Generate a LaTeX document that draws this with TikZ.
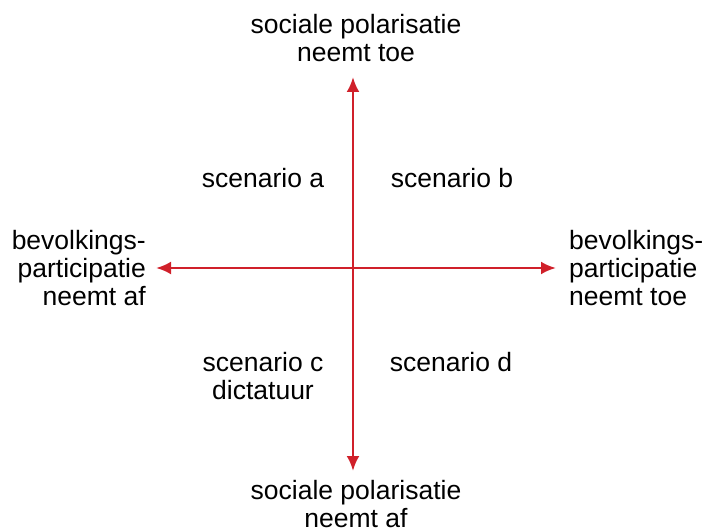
\documentclass[tikz,border=0pt]{standalone}
\usepackage{fontspec}
\setmainfont{Liberation Sans}
\usetikzlibrary{arrows.meta}
\definecolor{axisred}{HTML}{D0202A}
\begin{document}
\begin{tikzpicture}[x=1pt,y=-1pt,
  lbl/.style={font=\fontsize{26.5}{28}\selectfont, inner sep=0pt, text=black},
  axis/.style={draw=axisred, line width=2.8pt, -{Latex[length=15pt,width=13pt]}}]
\useasboundingbox (0,0) rectangle (705,532);
\coordinate (c) at (353,268);
\node[lbl, align=center] (top) at (356,38) {sociale polarisatie\\neemt toe};
\node[lbl, align=center] (bot) at (356,504) {sociale polarisatie\\neemt af};
\node[lbl, align=right, anchor=east] (left) at (146,268) {bevolkings-\\participatie\\neemt af};
\node[lbl, align=left, anchor=west] (right) at (569,268) {bevolkings-\\participatie\\neemt toe};
\node[lbl] (sa) at (263,178) {scenario a};
\node[lbl] (sb) at (452,178) {scenario b};
\node[lbl, align=center] (sc) at (263,376) {scenario c\\dictatuur};
\node[lbl] (sd) at (451,362) {scenario d};
\coordinate (tN) at (353,77);
\coordinate (tS) at (353,471);
\coordinate (tW) at (156,268);
\coordinate (tE) at (556,268);
\draw[axis] (c) -- (tN);
\draw[axis] (c) -- (tS);
\draw[axis] (c) -- (tW);
\draw[axis] (c) -- (tE);
\end{tikzpicture}
\end{document}
